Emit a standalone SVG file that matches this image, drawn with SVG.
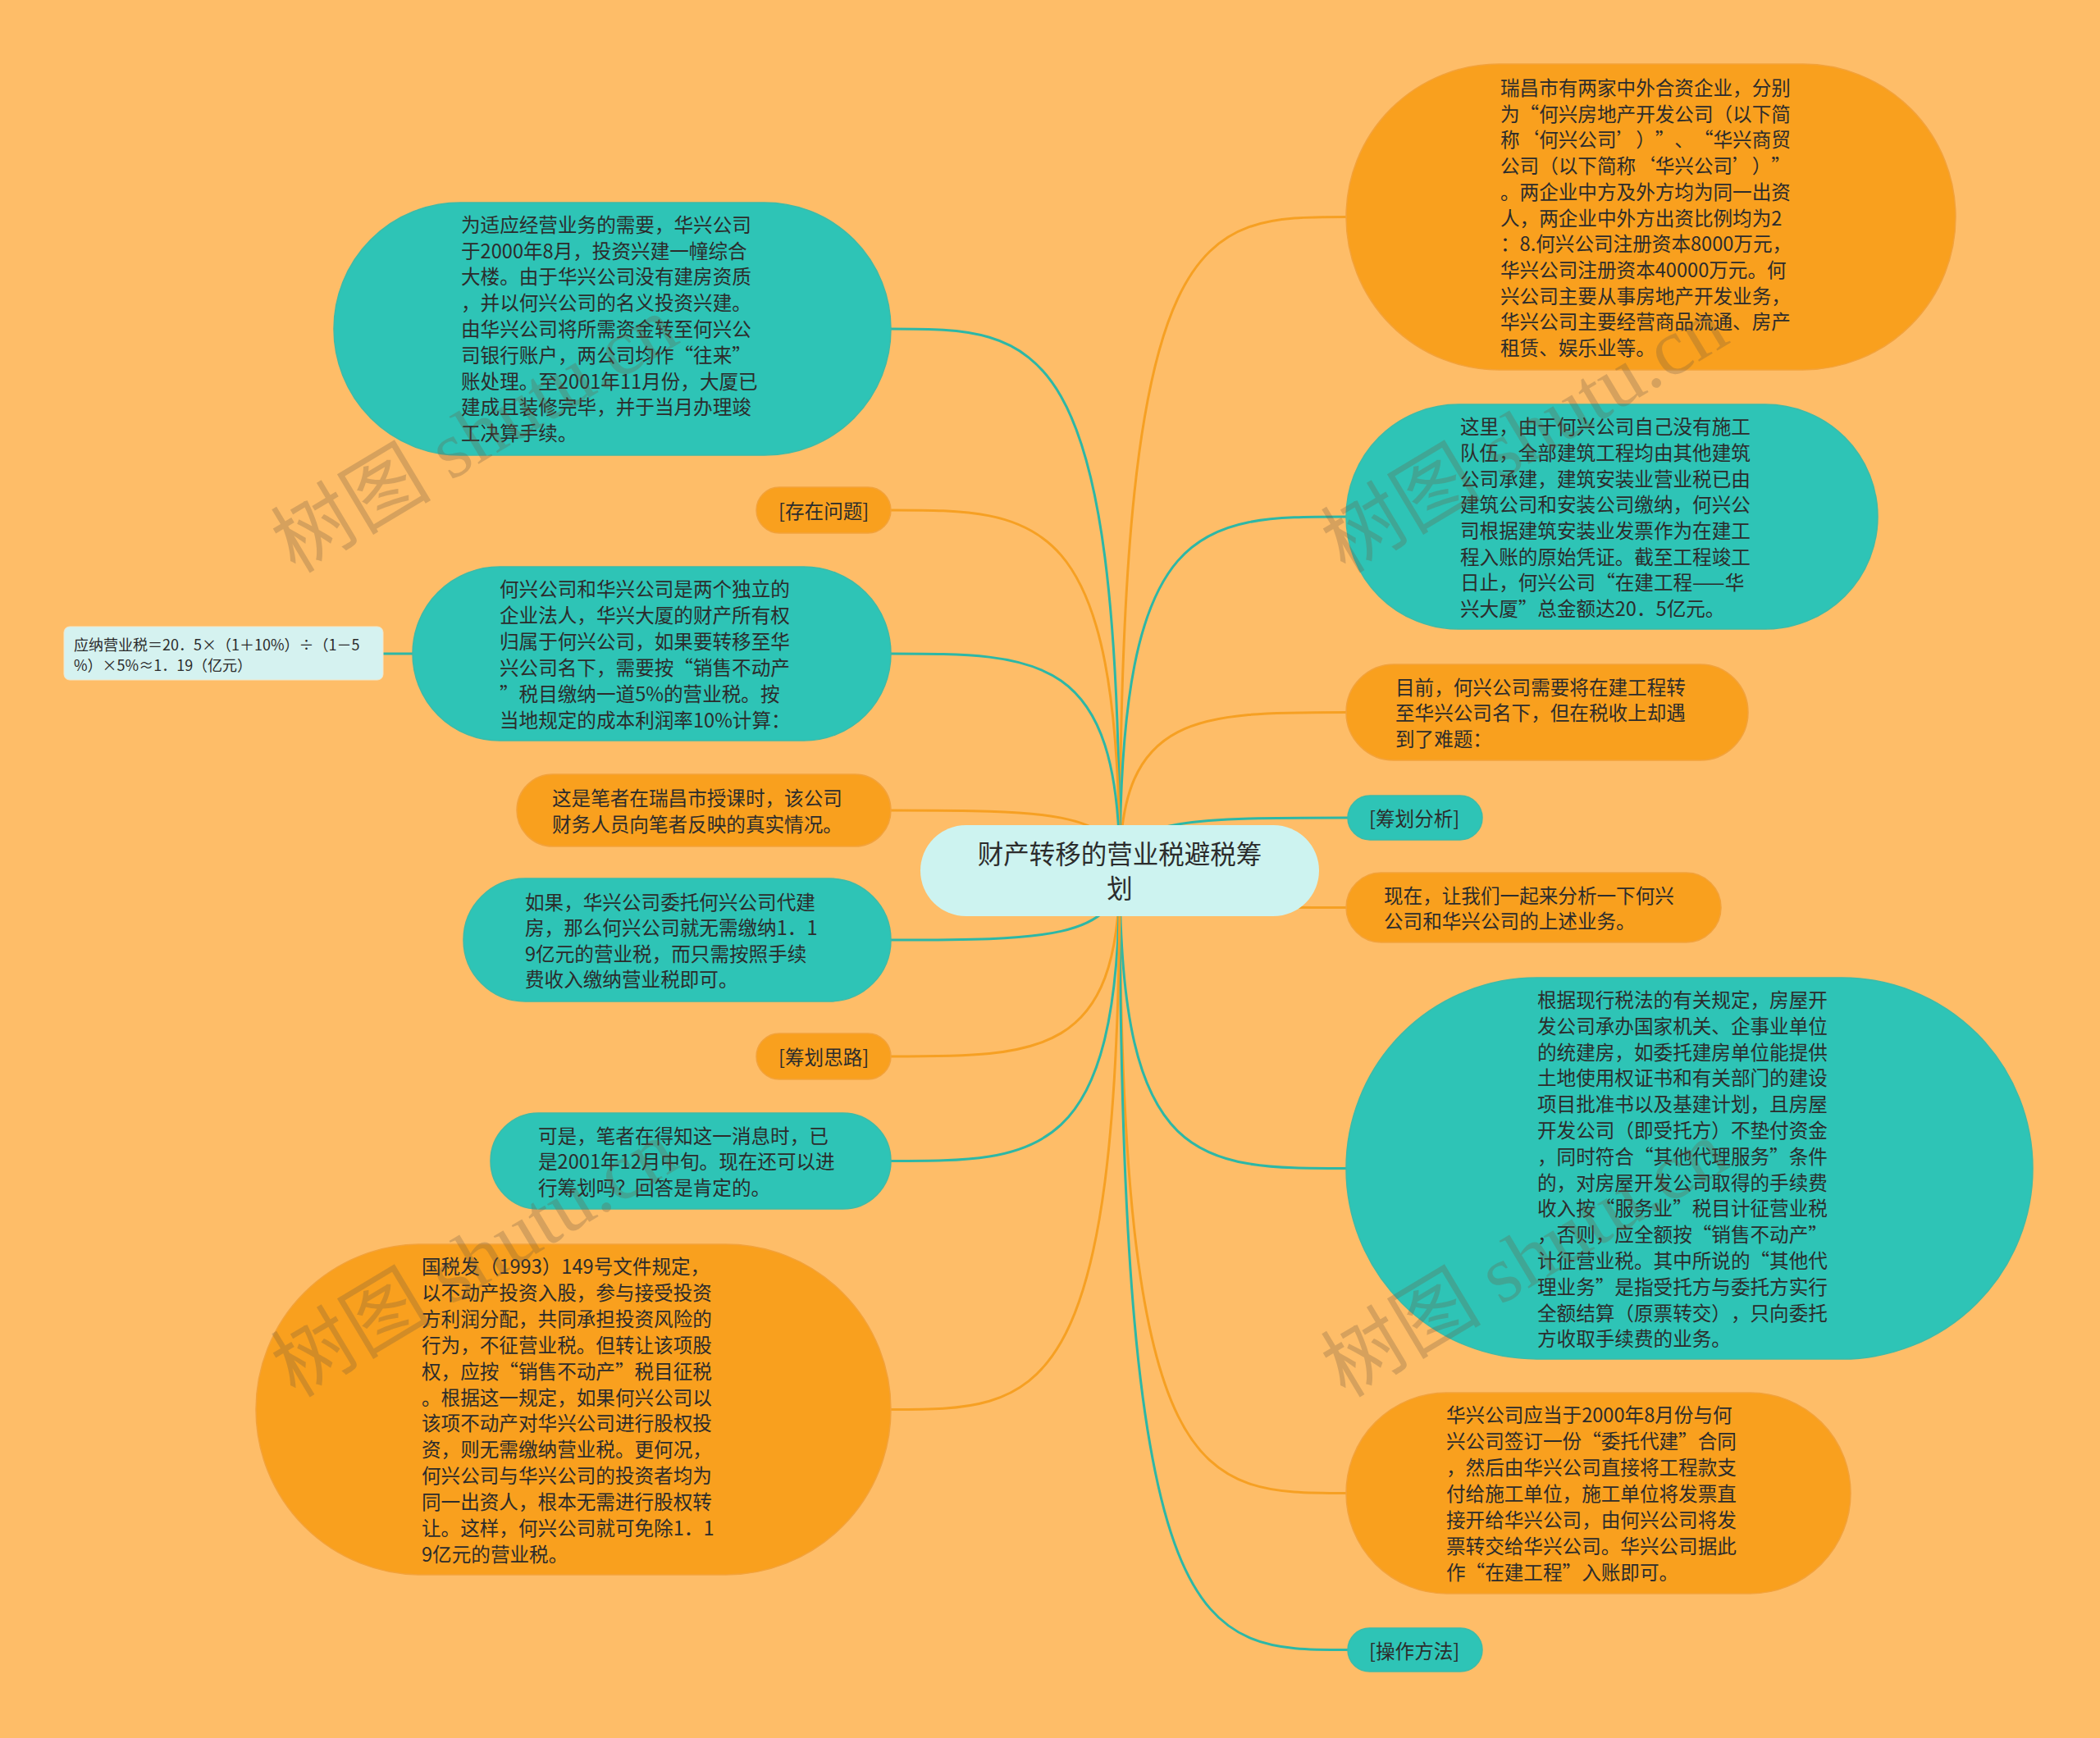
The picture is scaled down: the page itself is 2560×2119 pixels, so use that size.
<svg xmlns="http://www.w3.org/2000/svg" width="2560" height="2119" viewBox="0 0 2560 2119">
<style>
.bg{fill:#FEBD68}
.or{fill:#F9A01E;stroke:#F3A23A;stroke-width:1.5}
.te{fill:#2EC4B6;stroke:#3DBBA8;stroke-width:1.5}
.lt{fill:#CDF3F0}
.lt2{fill:#D5F2F0;stroke:#F3E6C8;stroke-width:1}
.cO{fill:none;stroke:#F6A023;stroke-width:3}
.cT{fill:none;stroke:#2DB7A6;stroke-width:3}
text{font-family:"Noto Sans CJK SC","Noto Sans",sans-serif;fill:#2c2c2c;dominant-baseline:central;text-spacing-trim:space-all}
.t{font-size:23.6px}
.tc{font-size:31.5px;text-anchor:middle}
.ts{font-size:18px}
.wm{font-family:"Liberation Serif","Noto Sans CJK SC",serif;font-size:98px;fill:#6E5A40;fill-opacity:0.28;dominant-baseline:auto}
</style>
<rect class="bg" x="0" y="0" width="2560" height="2119"/>
<g id="connectors">
<path class="cO" d="M1365 1061 C1365 264.5,1461.6 264.5,1641 264.5"/>
<path class="cT" d="M1365 1061 C1365 630,1461.6 630,1641 630"/>
<path class="cO" d="M1365 1061 C1365 868.5,1461.6 868.5,1641 868.5"/>
<path class="cT" d="M1365 1061 C1365 997,1461.6 997,1643 997"/>
<path class="cO" d="M1365 1061 C1365 1106.5,1461.6 1106.5,1641 1106.5"/>
<path class="cT" d="M1365 1061 C1365 1424.5,1461.6 1424.5,1641 1424.5"/>
<path class="cO" d="M1365 1061 C1365 1820.5,1461.6 1820.5,1641 1820.5"/>
<path class="cT" d="M1365 1061 C1365 2011.5,1461.6 2011.5,1643 2011.5"/>
<path class="cT" d="M1365 1061 C1365 401,1267.4 401,1086 401"/>
<path class="cO" d="M1365 1061 C1365 622,1267.4 622,1086 622"/>
<path class="cT" d="M1365 1061 C1365 797,1267.4 797,1086 797"/>
<path class="cO" d="M1365 1061 C1365 988,1267.4 988,1086 988"/>
<path class="cT" d="M1365 1061 C1365 1146,1267.4 1146,1086 1146"/>
<path class="cO" d="M1365 1061 C1365 1288,1267.4 1288,1086 1288"/>
<path class="cT" d="M1365 1061 C1365 1415.5,1267.4 1415.5,1086 1415.5"/>
<path class="cO" d="M1365 1061 C1365 1718.5,1267.4 1718.5,1086 1718.5"/>
<path class="cT" d="M503 797 L467 797"/>
</g>
<g id="root">
<rect class="lt" x="1122" y="1006" width="486" height="111" rx="55.5"/>
<text class="tc" x="1365" y="1039">财产转移的营业税避税筹</text>
<text class="tc" x="1365" y="1081">划</text>
</g>
<g id="n1">
<rect class="or" x="1641" y="78" width="743" height="373" rx="186.5"/>
<text class="t" x="1829"><tspan x="1829" y="106">瑞昌市有两家中外合资企业，分别</tspan><tspan x="1829" y="137.7">为“何兴房地产开发公司（以下简</tspan><tspan x="1829" y="169.4">称‘何兴公司’）”、“华兴商贸</tspan><tspan x="1829" y="201.1">公司（以下简称‘华兴公司’）”</tspan><tspan x="1829" y="232.8">。两企业中方及外方均为同一出资</tspan><tspan x="1829" y="264.5">人，两企业中外方出资比例均为2</tspan><tspan x="1829" y="296.2">：8.何兴公司注册资本8000万元，</tspan><tspan x="1829" y="327.9">华兴公司注册资本40000万元。何</tspan><tspan x="1829" y="359.6">兴公司主要从事房地产开发业务，</tspan><tspan x="1829" y="391.3">华兴公司主要经营商品流通、房产</tspan><tspan x="1829" y="423">租赁、娱乐业等。</tspan></text>
</g>
<g id="n2">
<rect class="te" x="1641" y="493" width="648" height="274" rx="137"/>
<text class="t"><tspan x="1780" y="519.2">这里，由于何兴公司自己没有施工</tspan><tspan x="1780" y="550.9">队伍，全部建筑工程均由其他建筑</tspan><tspan x="1780" y="582.6">公司承建，建筑安装业营业税已由</tspan><tspan x="1780" y="614.3">建筑公司和安装公司缴纳，何兴公</tspan><tspan x="1780" y="646">司根据建筑安装业发票作为在建工</tspan><tspan x="1780" y="677.7">程入账的原始凭证。截至工程竣工</tspan><tspan x="1780" y="709.4">日止，何兴公司“在建工程——华</tspan><tspan x="1780" y="741.1">兴大厦”总金额达20．5亿元。</tspan></text>
</g>
<g id="n3">
<rect class="or" x="1641" y="810" width="490" height="117" rx="58.5"/>
<text class="t"><tspan x="1701" y="836.5">目前，何兴公司需要将在建工程转</tspan><tspan x="1701" y="868.2">至华兴公司名下，但在税收上却遇</tspan><tspan x="1701" y="899.9">到了难题：</tspan></text>
</g>
<g id="n4">
<rect class="te" x="1643" y="970" width="164" height="54" rx="27"/>
<text class="t" x="1669" y="997">[筹划分析]</text>
</g>
<g id="n5">
<rect class="or" x="1641" y="1064" width="457" height="85" rx="42.5"/>
<text class="t"><tspan x="1687" y="1090.6">现在，让我们一起来分析一下何兴</tspan><tspan x="1687" y="1122.3">公司和华兴公司的上述业务。</tspan></text>
</g>
<g id="n6">
<rect class="te" x="1641" y="1192" width="837" height="465" rx="232.5"/>
<text class="t"><tspan x="1874" y="1218">根据现行税法的有关规定，房屋开</tspan><tspan x="1874" y="1249.8">发公司承办国家机关、企事业单位</tspan><tspan x="1874" y="1281.6">的统建房，如委托建房单位能提供</tspan><tspan x="1874" y="1313.4">土地使用权证书和有关部门的建设</tspan><tspan x="1874" y="1345.2">项目批准书以及基建计划，且房屋</tspan><tspan x="1874" y="1377">开发公司（即受托方）不垫付资金</tspan><tspan x="1874" y="1408.8">，同时符合“其他代理服务”条件</tspan><tspan x="1874" y="1440.6">的，对房屋开发公司取得的手续费</tspan><tspan x="1874" y="1472.4">收入按“服务业”税目计征营业税</tspan><tspan x="1874" y="1504.2">，否则，应全额按“销售不动产”</tspan><tspan x="1874" y="1536">计征营业税。其中所说的“其他代</tspan><tspan x="1874" y="1567.8">理业务”是指受托方与委托方实行</tspan><tspan x="1874" y="1599.6">全额结算（原票转交），只向委托</tspan><tspan x="1874" y="1631.4">方收取手续费的业务。</tspan></text>
</g>
<g id="n7">
<rect class="or" x="1641" y="1698" width="615" height="245" rx="122.5"/>
<text class="t"><tspan x="1763" y="1724">华兴公司应当于2000年8月份与何</tspan><tspan x="1763" y="1756">兴公司签订一份“委托代建”合同</tspan><tspan x="1763" y="1788">，然后由华兴公司直接将工程款支</tspan><tspan x="1763" y="1820">付给施工单位，施工单位将发票直</tspan><tspan x="1763" y="1852">接开给华兴公司，由何兴公司将发</tspan><tspan x="1763" y="1884">票转交给华兴公司。华兴公司据此</tspan><tspan x="1763" y="1916">作“在建工程”入账即可。</tspan></text>
</g>
<g id="n8">
<rect class="te" x="1643" y="1985" width="164" height="53" rx="26.5"/>
<text class="t" x="1669" y="2011.5">[操作方法]</text>
</g>
<g id="nA">
<rect class="te" x="407" y="247" width="679" height="308" rx="154"/>
<text class="t"><tspan x="562" y="272.7">为适应经营业务的需要，华兴公司</tspan><tspan x="562" y="304.5">于2000年8月，投资兴建一幢综合</tspan><tspan x="562" y="336.3">大楼。由于华兴公司没有建房资质</tspan><tspan x="562" y="368.1">，并以何兴公司的名义投资兴建。</tspan><tspan x="562" y="399.9">由华兴公司将所需资金转至何兴公</tspan><tspan x="562" y="431.7">司银行账户，两公司均作“往来”</tspan><tspan x="562" y="463.5">账处理。至2001年11月份，大厦已</tspan><tspan x="562" y="495.3">建成且装修完毕，并于当月办理竣</tspan><tspan x="562" y="527.1">工决算手续。</tspan></text>
</g>
<g id="nB">
<rect class="or" x="922" y="594" width="164" height="56" rx="28"/>
<text class="t" x="949" y="622">[存在问题]</text>
</g>
<g id="nC">
<rect class="te" x="503" y="691" width="583" height="212" rx="106"/>
<text class="t"><tspan x="609" y="716.8">何兴公司和华兴公司是两个独立的</tspan><tspan x="609" y="748.8">企业法人，华兴大厦的财产所有权</tspan><tspan x="609" y="780.8">归属于何兴公司，如果要转移至华</tspan><tspan x="609" y="812.8">兴公司名下，需要按“销售不动产</tspan><tspan x="609" y="844.8">”税目缴纳一道5%的营业税。按</tspan><tspan x="609" y="876.8">当地规定的成本利润率10%计算：</tspan></text>
</g>
<g id="nD">
<rect class="lt2" x="78" y="764" width="389" height="65" rx="7"/>
<text class="ts"><tspan x="90" y="785">应纳营业税＝20．5×（1＋10%）÷（1－5</tspan><tspan x="90" y="810">%）×5%≈1．19（亿元）</tspan></text>
</g>
<g id="nE">
<rect class="or" x="630" y="944" width="456" height="88" rx="44"/>
<text class="t"><tspan x="673" y="971.5">这是笔者在瑞昌市授课时，该公司</tspan><tspan x="673" y="1004">财务人员向笔者反映的真实情况。</tspan></text>
</g>
<g id="nF">
<rect class="te" x="565" y="1071" width="521" height="150" rx="75"/>
<text class="t"><tspan x="640" y="1098.8">如果，华兴公司委托何兴公司代建</tspan><tspan x="640" y="1130.3">房，那么何兴公司就无需缴纳1．1</tspan><tspan x="640" y="1161.8">9亿元的营业税，而只需按照手续</tspan><tspan x="640" y="1193.3">费收入缴纳营业税即可。</tspan></text>
</g>
<g id="nG">
<rect class="or" x="922" y="1260" width="164" height="56" rx="28"/>
<text class="t" x="949" y="1288">[筹划思路]</text>
</g>
<g id="nH">
<rect class="te" x="598" y="1357" width="488" height="117" rx="58.5"/>
<text class="t"><tspan x="656" y="1383.5">可是，笔者在得知这一消息时，已</tspan><tspan x="656" y="1415.2">是2001年12月中旬。现在还可以进</tspan><tspan x="656" y="1446.9">行筹划吗？回答是肯定的。</tspan></text>
</g>
<g id="nI">
<rect class="or" x="312" y="1517" width="774" height="403" rx="201.5"/>
<text class="t"><tspan x="514" y="1543">国税发（1993）149号文件规定，</tspan><tspan x="514" y="1574.9">以不动产投资入股，参与接受投资</tspan><tspan x="514" y="1606.8">方利润分配，共同承担投资风险的</tspan><tspan x="514" y="1638.7">行为，不征营业税。但转让该项股</tspan><tspan x="514" y="1670.6">权，应按“销售不动产”税目征税</tspan><tspan x="514" y="1702.5">。根据这一规定，如果何兴公司以</tspan><tspan x="514" y="1734.4">该项不动产对华兴公司进行股权投</tspan><tspan x="514" y="1766.3">资，则无需缴纳营业税。更何况，</tspan><tspan x="514" y="1798.2">何兴公司与华兴公司的投资者均为</tspan><tspan x="514" y="1830.1">同一出资人，根本无需进行股权转</tspan><tspan x="514" y="1862">让。这样，何兴公司就可免除1．1</tspan><tspan x="514" y="1893.9">9亿元的营业税。</tspan></text>
</g>
<g id="watermarks">
<text class="wm" transform="translate(360 700) rotate(-31)">树图 shutu.cn</text>
<text class="wm" transform="translate(1640 700) rotate(-31)">树图 shutu.cn</text>
<text class="wm" transform="translate(360 1705) rotate(-31)">树图 shutu.cn</text>
<text class="wm" transform="translate(1640 1705) rotate(-31)">树图 shutu.cn</text>
</g>
</svg>
